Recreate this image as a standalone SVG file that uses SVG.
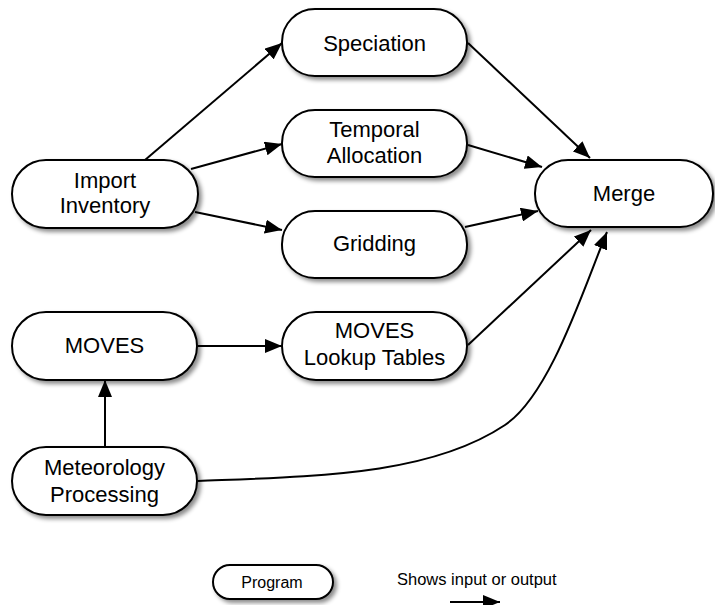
<svg xmlns="http://www.w3.org/2000/svg" width="715" height="605" viewBox="0 0 715 605">
<defs>
<filter id="sh" x="-10%" y="-10%" width="130%" height="140%">
<feDropShadow dx="3" dy="3" stdDeviation="2" flood-color="#000" flood-opacity="0.45"/>
</filter>
<marker id="ah" markerUnits="userSpaceOnUse" markerWidth="18" markerHeight="14" refX="17" refY="7" orient="auto">
<path d="M0,0 L17,7 L0,14 Z" fill="#000"/>
</marker>
<style>
.n rect{fill:#fff;stroke:#000;stroke-width:2;filter:url(#sh)}
.n text{font-family:"Liberation Sans",Arial,sans-serif;font-size:22px;fill:#000;text-anchor:middle}
.e path{fill:none;stroke:#000;stroke-width:2;marker-end:url(#ah)}
.lg{font-family:"Liberation Sans",Arial,sans-serif;font-size:16.5px;fill:#000}
</style>
</defs>
<rect width="715" height="605" fill="#fff"/>
<g id="connectors" class="e">
<path d="M145,160 L282,43"/>
<path d="M191,169 L282,144"/>
<path d="M195,212 L282,230"/>
<path d="M468,43 L590,158"/>
<path d="M468,145 L542,167"/>
<path d="M465,227 L538,211"/>
<path d="M468,345 L591,230"/>
<path d="M198,346 L282,346"/>
<path d="M105,447 L105,380"/>
<path d="M198,481 C320,476 430,475 505,425 C550,395 583,290 607,232"/>
</g>
<g id="speciation" class="n"><rect x="282" y="9" width="185" height="67" rx="33"/><text x="374.5" y="51">Speciation</text></g>
<g id="temporal" class="n"><rect x="282" y="110" width="185" height="67" rx="33"/><text x="374.5" y="137">Temporal</text><text x="374.5" y="163">Allocation</text></g>
<g id="gridding" class="n"><rect x="282" y="211" width="185" height="67" rx="33"/><text x="374.5" y="251">Gridding</text></g>
<g id="import" class="n"><rect x="12" y="160" width="186" height="68" rx="34"/><text x="105" y="188">Import</text><text x="105" y="213">Inventory</text></g>
<g id="merge" class="n"><rect x="535" y="160" width="178" height="67" rx="33"/><text x="624" y="201">Merge</text></g>
<g id="moves" class="n"><rect x="12" y="312" width="185" height="68" rx="34"/><text x="104.5" y="353">MOVES</text></g>
<g id="lookup" class="n"><rect x="282" y="312" width="185" height="68" rx="34"/><text x="374.5" y="338">MOVES</text><text x="374.5" y="365">Lookup Tables</text></g>
<g id="meteorology" class="n"><rect x="12" y="447" width="185" height="68" rx="34"/><text x="104.5" y="475">Meteorology</text><text x="104.5" y="502">Processing</text></g>
<g id="legend-program" class="n"><rect x="213" y="565" width="120" height="34" rx="17"/><text x="272" y="588" style="font-size:16px">Program</text></g>
<g id="legend-arrow">
<text class="lg" x="397" y="585">Shows input or output</text>
<path d="M450,602 L500,602" fill="none" stroke="#000" stroke-width="2" marker-end="url(#ah)"/>
</g>
</svg>
